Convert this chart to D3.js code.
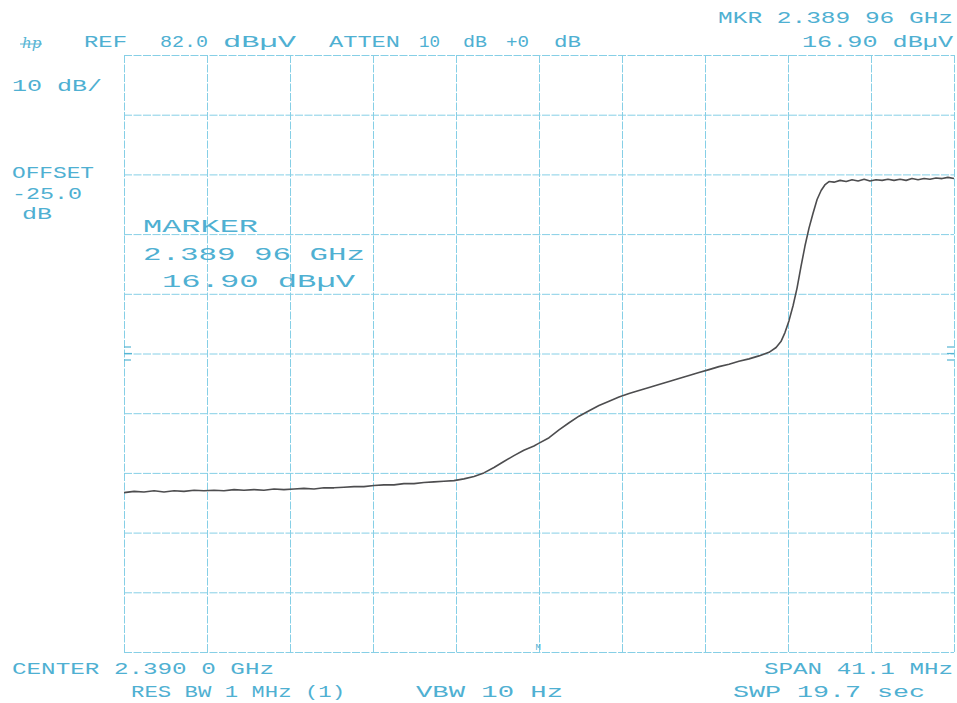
<!DOCTYPE html>
<html>
<head>
<meta charset="utf-8">
<script src="https://cdn.jsdelivr.net/npm/d3@7"></script>
<style>
  body { margin: 0; background: #fff; }
  .grid line, .grid path { stroke: #86cfe6; stroke-width: 1; stroke-dasharray: 8,1.5; }
  .lbl { font-family: "Liberation Mono", "DejaVu Sans Mono", monospace; fill: #4fb0d2; }
</style>
</head>
<body>
<div id="graphic"></div>
<script>
// instrument settings
var centerMHz = 2390.0;
var spanMHz = 41.1;
var refLevel = 82.0;     // dBuV, top line
var dbPerDiv = 10;
var divisions = 10;

// trace: frequency (MHz) and level (dBuV)
var traceFreq = [
  2369.45, 2369.95, 2370.44, 2370.94, 2371.43, 2371.93, 2372.42, 2372.92, 2373.41, 2373.91,
  2374.40, 2374.90, 2375.39, 2375.89, 2376.38, 2376.88, 2377.37, 2377.87, 2378.36, 2378.86,
  2379.35, 2379.85, 2380.34, 2380.84, 2381.33, 2381.83, 2382.32, 2382.82, 2383.31, 2383.81,
  2384.30, 2384.80, 2385.29, 2385.79, 2386.28, 2386.78, 2387.27, 2387.77, 2388.26, 2388.76,
  2389.25, 2389.75, 2389.96, 2390.50, 2390.99, 2391.49, 2391.98, 2392.48, 2392.97, 2393.47,
  2393.96, 2394.46, 2394.95, 2395.45, 2395.94, 2396.44, 2396.93, 2397.43, 2397.92, 2398.42,
  2398.91, 2399.41, 2399.90, 2400.40, 2400.89, 2401.39, 2401.74, 2401.98, 2402.18, 2402.38,
  2402.58, 2402.78, 2402.97, 2403.17, 2403.37, 2403.57, 2403.77, 2403.97, 2404.17, 2404.36,
  2404.61, 2404.91, 2405.21, 2405.50, 2405.80, 2406.10, 2406.39, 2406.69, 2406.99, 2407.28,
  2407.58, 2407.88, 2408.18, 2408.47, 2408.77, 2409.07, 2409.36, 2409.66, 2409.96, 2410.25,
  2410.55
];
var traceLevel = [
  8.7, 8.9, 8.8, 9.0, 8.8, 9.0, 8.9, 9.1, 9.0, 9.1,
  9.0, 9.2, 9.1, 9.2, 9.1, 9.3, 9.2, 9.3, 9.4, 9.3,
  9.5, 9.5, 9.6, 9.7, 9.7, 9.9, 10.0, 10.0, 10.2, 10.2,
  10.4, 10.5, 10.6, 10.7, 11.0, 11.4, 12.0, 12.9, 13.9, 14.9,
  15.8, 16.5, 16.9, 17.9, 19.2, 20.4, 21.5, 22.4, 23.3, 24.0,
  24.7, 25.3, 25.8, 26.3, 26.8, 27.3, 27.8, 28.3, 28.8, 29.3,
  29.8, 30.2, 30.7, 31.1, 31.6, 32.2, 33.0, 34.0, 35.5, 37.5,
  40.0, 43.0, 46.5, 50.0, 53.0, 55.5, 57.8, 59.3, 60.3, 60.8,
  60.7, 61.0, 60.8, 61.1, 60.9, 61.2, 60.9, 61.1, 61.0, 61.2,
  61.0, 61.2, 61.0, 61.3, 61.1, 61.3, 61.2, 61.4, 61.3, 61.5,
  61.3
];

// annotation texts
var headerTexts = ["REF", "82.0", "dB\u00b5V", "ATTEN", "10", "dB", "+0", "dB"];
var mkrTexts = ["MKR 2.389 96 GHz", "16.90 dB\u00b5V"];
var leftTexts = ["10 dB/", "OFFSET", "-25.0", "dB"];
var markerTexts = ["MARKER", "2.389 96 GHz", "16.90 dB\u00b5V"];
var footerTexts = ["CENTER 2.390 0 GHz", "SPAN 41.1 MHz", "RES BW 1 MHz (1)", "VBW 10  Hz", "SWP 19.7  sec"];

var W = 957, H = 703;
var margin = {top: 55, right: 3, bottom: 51, left: 124};
var width = W - margin.left - margin.right,
    height = H - margin.top - margin.bottom;

var svg = d3.select("#graphic").append("svg")
    .attr("width", W)
    .attr("height", H);

var g = svg.append("g")
    .attr("transform", "translate(" + margin.left + "," + margin.top + ")");

var xScale = d3.scaleLinear()
    .domain([centerMHz - spanMHz / 2, centerMHz + spanMHz / 2])
    .range([0, width]);

var yScale = d3.scaleLinear()
    .domain([refLevel - dbPerDiv * divisions, refLevel])
    .range([height, 0]);

var xTicks = d3.range(divisions + 1).map(i => centerMHz - spanMHz / 2 + i * spanMHz / divisions);
var yTicks = d3.range(divisions + 1).map(i => refLevel - i * dbPerDiv);

// GRID
g.append("g")
    .attr("class", "grid")
    .attr("transform", "translate(0," + height + ")")
    .call(d3.axisBottom(xScale).tickValues(xTicks).tickSize(-height).tickFormat(""))
    .call(a => a.select(".domain").remove());

g.append("g")
    .attr("class", "grid")
    .call(d3.axisLeft(yScale).tickValues(yTicks).tickSize(-width).tickFormat(""))
    .call(a => a.select(".domain").remove());

// small reference marks on both borders
[-6.5, 0, 6.5].forEach(function (dy, i) {
    var yy = yScale(refLevel - 5 * dbPerDiv) + dy;
    g.append("line").attr("x1", 0).attr("x2", i == 1 ? 8 : 7).attr("y1", yy).attr("y2", yy)
        .attr("stroke", "#56b4d3").attr("stroke-width", 1.2);
    g.append("line").attr("x1", width - 7).attr("x2", width).attr("y1", yy).attr("y2", yy)
        .attr("stroke", "#56b4d3").attr("stroke-width", 1.2);
});

// marker glyph at bottom
g.append("text")
    .attr("class", "lbl")
    .attr("x", xScale(2389.96))
    .attr("y", height - 2)
    .attr("text-anchor", "middle")
    .style("font-size", "9px")
    .text("M");

// TRACE
var trace = traceFreq.map((f, i) => ({f: f, v: traceLevel[i]}));
g.append("path")
    .datum(trace)
    .attr("fill", "none")
    .attr("stroke", "#4d4d4f")
    .attr("stroke-width", 1.6)
    .attr("stroke-linejoin", "round")
    .attr("d", d3.line().x(d => xScale(d.f)).y(d => yScale(d.v)));

// TEXT
function label(txt, x, y, len, size) {
    svg.append("text")
        .attr("class", "lbl")
        .attr("x", x)
        .attr("y", y)
        .attr("textLength", len)
        .attr("lengthAdjust", "spacingAndGlyphs")
        .style("font-size", size + "px")
        .text(txt);
}

var headerX = [84, 160, 223, 329, 419, 463, 506, 554];
var headerW = [43, 48, 73, 71, 21, 24, 23, 27];
headerTexts.forEach((t, i) => label(t, headerX[i], 47, headerW[i], 16));

label(mkrTexts[0], 718, 23, 235, 16);
label(mkrTexts[1], 802, 47, 151, 16);

label(leftTexts[0], 12, 91, 90, 16);
label(leftTexts[1], 12, 178, 82, 16);
label(leftTexts[2], 12, 199, 70, 16);
label(leftTexts[3], 22, 219, 30, 16);

label(markerTexts[0], 143, 232, 115, 19);
label(markerTexts[1], 143, 260, 222, 19);
label(markerTexts[2], 162, 287, 193, 19);

label(footerTexts[0], 12, 674, 262, 16);
label(footerTexts[1], 764, 674, 189, 16);
label(footerTexts[2], 131, 697, 214, 16);
label(footerTexts[3], 416, 697, 147, 16);
label(footerTexts[4], 733, 697, 192, 16);

// hp logo
var logo = svg.append("g").attr("transform", "translate(20,34)");
logo.append("text")
    .attr("x", 2).attr("y", 14)
    .style("font-family", "DejaVu Serif, serif")
    .style("font-style", "italic")
    .style("font-size", "15px")
    .attr("fill", "#56b4d3")
    .text("hp");
logo.append("line").attr("x1", 0).attr("x2", 22).attr("y1", 10).attr("y2", 10)
    .attr("stroke", "#56b4d3").attr("stroke-width", 1);
</script>
</body>
</html>
